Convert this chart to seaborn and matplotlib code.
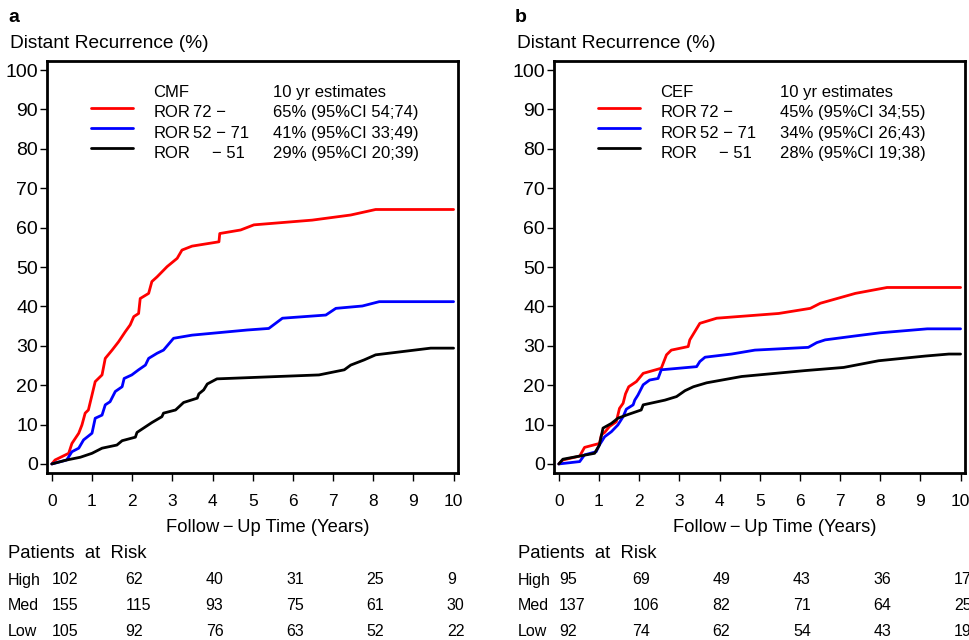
import numpy as np
import pandas as pd
import matplotlib
matplotlib.use("Agg")
import matplotlib.pyplot as plt
import matplotlib.transforms as mtransforms
import seaborn as sns

# ---------------- data ----------------
groups = ["ROR 72−", "ROR 52−71", "ROR −51"]

# Panel a (CMF)
a_high_t = [0, 0.08, 0.42, 0.5, 0.67, 0.75, 0.83, 0.91, 1.0, 1.08, 1.25, 1.33, 1.5, 1.66, 1.83, 1.95, 2.04, 2.16, 2.2, 2.41, 2.49, 2.62, 2.87, 3.12, 3.24, 3.49, 4.16, 4.18, 4.7, 5.03, 6.48, 7.44, 8.06, 10.0]
a_high_y = [0, 1.0, 2.7, 5.2, 7.8, 9.9, 12.9, 13.7, 17.5, 20.9, 22.6, 26.8, 28.9, 31.0, 33.6, 35.3, 37.4, 38.2, 42.0, 43.3, 46.3, 47.5, 50.1, 52.2, 54.3, 55.3, 56.4, 58.5, 59.4, 60.7, 61.9, 63.2, 64.6, 64.6]
a_med_t = [0, 0.37, 0.5, 0.67, 0.79, 1.0, 1.08, 1.25, 1.33, 1.45, 1.58, 1.75, 1.8, 1.99, 2.16, 2.33, 2.41, 2.62, 2.78, 3.03, 3.49, 4.86, 5.4, 5.57, 5.74, 6.82, 7.07, 7.73, 8.15, 10.0]
a_med_y = [0, 1.0, 3.1, 4.0, 6.1, 7.8, 11.6, 12.4, 15.0, 15.8, 18.4, 19.6, 21.7, 22.6, 23.9, 25.1, 26.8, 28.1, 28.9, 31.9, 32.7, 34.0, 34.4, 35.7, 37.0, 37.8, 39.5, 40.1, 41.2, 41.2]
a_low_t = [0, 0.37, 0.71, 1.0, 1.25, 1.62, 1.75, 2.08, 2.12, 2.49, 2.74, 2.78, 3.08, 3.28, 3.62, 3.66, 3.78, 3.87, 4.11, 6.65, 7.28, 7.44, 7.77, 8.06, 9.43, 10.0]
a_low_y = [0, 1.0, 1.7, 2.7, 4.0, 4.8, 5.9, 6.8, 8.0, 10.5, 12.0, 12.9, 13.7, 15.6, 16.7, 17.8, 18.8, 20.3, 21.6, 22.6, 23.9, 25.1, 26.4, 27.7, 29.4, 29.4]

# Panel b (CEF)
b_high_t = [0, 0.1, 0.52, 0.64, 1.01, 1.06, 1.14, 1.26, 1.43, 1.51, 1.6, 1.66, 1.74, 1.93, 2.1, 2.55, 2.68, 2.8, 3.22, 3.26, 3.51, 3.93, 5.47, 6.26, 6.51, 7.38, 8.17, 10.0]
b_high_y = [0, 1.0, 2.0, 4.2, 5.2, 7.4, 8.0, 9.5, 10.7, 14.1, 15.4, 17.8, 19.6, 20.9, 23.0, 24.3, 27.7, 28.9, 29.8, 31.5, 35.7, 37.0, 38.2, 39.5, 40.8, 43.3, 44.8, 44.8]
b_med_t = [0, 0.52, 0.64, 0.93, 1.01, 1.14, 1.31, 1.47, 1.6, 1.68, 1.85, 1.89, 1.97, 2.1, 2.26, 2.47, 2.55, 3.43, 3.51, 3.64, 4.3, 4.88, 6.21, 6.42, 6.63, 7.38, 8.0, 9.17, 10.0]
b_med_y = [0, 0.6, 2.3, 3.1, 4.8, 6.9, 8.2, 9.9, 12.0, 13.9, 15.0, 16.2, 17.5, 20.1, 21.3, 21.7, 23.9, 24.7, 26.0, 27.1, 27.9, 28.9, 29.6, 30.8, 31.5, 32.5, 33.3, 34.3, 34.3]
b_low_t = [0, 0.1, 0.52, 0.89, 1.01, 1.1, 1.31, 1.47, 1.68, 2.05, 2.1, 2.64, 2.93, 3.14, 3.35, 3.68, 4.55, 6.13, 7.09, 7.96, 9.13, 9.71, 10.0]
b_low_y = [0, 1.2, 2.0, 2.7, 4.8, 9.1, 10.3, 11.6, 12.4, 13.7, 15.0, 16.2, 17.1, 18.6, 19.6, 20.6, 22.2, 23.7, 24.5, 26.2, 27.4, 27.9, 27.9]

legend_titles = ["CMF", "CEF"]
estimates_a = ["65% (95%CI 54;74)", "41% (95%CI 33;49)", "29% (95%CI 20;39)"]
estimates_b = ["45% (95%CI 34;55)", "34% (95%CI 26;43)", "28% (95%CI 19;38)"]
range_labels = ["72 −", "52 − 71", "− 51"]

risk_times = [0, 2, 4, 6, 8, 10]
risk_rows = ["High", "Med", "Low"]
risk_a = [[102, 62, 40, 31, 25, 9],
          [155, 115, 93, 75, 61, 30],
          [105, 92, 76, 63, 52, 22]]
risk_b = [[95, 69, 49, 43, 36, 17],
          [137, 106, 82, 71, 64, 25],
          [92, 74, 62, 54, 43, 19]]

colors = ["#FF0000", "#0000FF", "#000000"]

# ---------------- style ----------------
sns.set_style("ticks")
FONT = ["Liberation Sans", "DejaVu Sans"]
plt.rcParams["font.family"] = FONT
for k in ["text.color", "axes.labelcolor", "xtick.color", "ytick.color", "axes.edgecolor"]:
    plt.rcParams[k] = "black"

fig = plt.figure(figsize=(9.7, 6.4), dpi=100)
W, H = 970, 640

def make_df(ts, ys):
    frames = []
    for g, t, y in zip(groups, ts, ys):
        frames.append(pd.DataFrame({"time": t, "pct": y, "group": g}))
    return pd.concat(frames, ignore_index=True)

df_a = make_df([a_high_t, a_med_t, a_low_t], [a_high_y, a_med_y, a_low_y])
df_b = make_df([b_high_t, b_med_t, b_low_t], [b_high_y, b_med_y, b_low_y])

panels = [
    dict(df=df_a, left=47, letter="a", title=legend_titles[0], est=estimates_a, risk=risk_a, lab_x=8),
    dict(df=df_b, left=554, letter="b", title=legend_titles[1], est=estimates_b, risk=risk_b, lab_x=518),
]

for p in panels:
    ax = fig.add_axes([p["left"] / W, (H - 473) / H, 411 / W, 412 / H])
    sns.lineplot(data=p["df"], x="time", y="pct", hue="group", palette=colors,
                 estimator=None, sort=False, linewidth=2.0, ax=ax, legend=False)
    ax.set_xlim(-0.12, 10.11)
    ax.set_ylim(-2.3, 102.3)
    ax.set_xticks(range(0, 11))
    ax.set_yticks(range(0, 101, 10))
    ax.tick_params(axis="y", labelsize=14, length=5, width=1, pad=1.5, direction="out")
    ax.tick_params(axis="x", labelsize=12.5, length=6, width=1, pad=9, direction="out")
    for s in ax.spines.values():
        s.set_visible(True)
        s.set_linewidth(2.0)
        s.set_color("black")
    ax.set_xlabel("")
    ax.set_ylabel("")

    # panel letter and y title
    fig.text(p["left"] / W - 39 / W, 1 - 18 / H, p["letter"], fontsize=14, fontweight="bold",
             ha="left", va="center")
    fig.text(p["left"] / W - 37 / W, 1 - 44 / H, "Distant Recurrence (%)", fontsize=13.8,
             ha="left", va="center")

    # legend block in data coords
    fs_leg = 12
    ax.text(2.53, 94.2, p["title"], fontsize=fs_leg, ha="left", va="center")
    ax.text(5.5, 94.2, "10 yr estimates", fontsize=fs_leg, ha="left", va="center")
    ys = [89.1, 84.0, 78.9]
    for i in range(3):
        ax.plot([0.98, 2.03], [ys[i] + 1.2, ys[i] + 1.2], color=colors[i], lw=2.0)
        ax.text(2.53, ys[i], "ROR", fontsize=fs_leg, ha="left", va="center")
        rx = 3.52 if i < 2 else 3.98
        ax.text(rx, ys[i], range_labels[i], fontsize=fs_leg, ha="left", va="center")
        ax.text(5.5, ys[i], p["est"][i], fontsize=fs_leg, ha="left", va="center")

    # x label
    trans = mtransforms.blended_transform_factory(ax.transData, fig.transFigure)
    ax.text(5.37, 1 - 528 / H, "Follow\u2009−\u2009Up Time (Years)", fontsize=13.2, ha="center",
            va="center", transform=trans)

    # risk table
    fig.text(p["lab_x"] / W, 1 - 554 / H, "Patients  at  Risk", fontsize=13.3, ha="left", va="center")
    row_y = [580, 606, 632]
    for r in range(3):
        fig.text(p["lab_x"] / W, 1 - row_y[r] / H, risk_rows[r], fontsize=11.5, ha="left", va="center")
        for j, t in enumerate(risk_times):
            xx = t if j == 0 else t - 0.17
            ax.text(xx, 1 - row_y[r] / H, str(p["risk"][r][j]), fontsize=11.5, ha="left",
                    va="center", transform=trans, clip_on=False)

fig.savefig("out.png", dpi=100)
